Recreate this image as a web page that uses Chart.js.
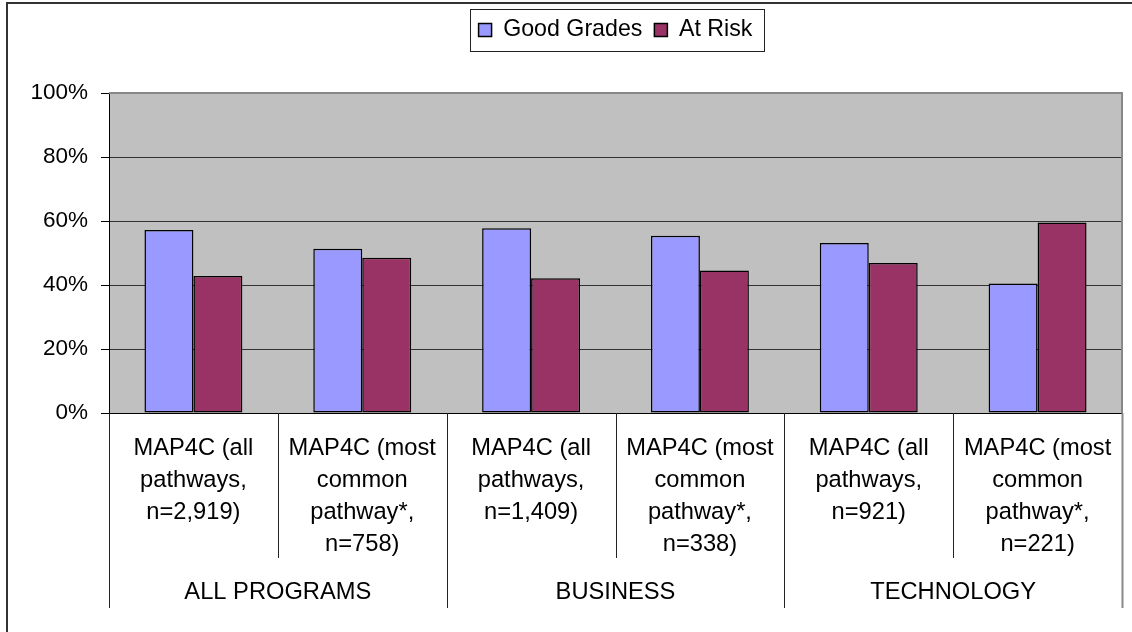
<!DOCTYPE html>
<html>
<head>
<meta charset="utf-8">
<script src="https://cdn.jsdelivr.net/npm/chart.js@4.4.1/dist/chart.umd.min.js"></script>
<style>
  html, body { margin: 0; padding: 0; background: #fff; }
  #wrap { width: 1132px; height: 632px; position: relative; }
</style>
</head>
<body>
<div id="wrap"><canvas id="chart"></canvas></div>
<script>
// data
const programs = ['ALL PROGRAMS', 'BUSINESS', 'TECHNOLOGY'];
const courses = [
    ['MAP4C (all', 'pathways,', 'n=2,919)'],
    ['MAP4C (most', 'common', 'pathway*,', 'n=758)'],
    ['MAP4C (all', 'pathways,', 'n=1,409)'],
    ['MAP4C (most', 'common', 'pathway*,', 'n=338)'],
    ['MAP4C (all', 'pathways,', 'n=921)'],
    ['MAP4C (most', 'common', 'pathway*,', 'n=221)']
];
const goodGrades = [57.2, 51.3, 57.7, 55.4, 53.1, 40.5];
const atRisk = [42.8, 48.5, 42.1, 44.5, 46.9, 59.5];
const yTicks = [0, 20, 40, 60, 80, 100];

const FONT = 'Liberation Sans, Arial, sans-serif';
const SIZE = 23.7;

// grey plot background
const plotBackground = {
    id: 'plotBackground',
    beforeDraw(chart) {
        const {ctx, chartArea: a} = chart;
        ctx.save();
        ctx.fillStyle = '#c0c0c0';
        ctx.fillRect(a.left, a.top, a.right - a.left, a.bottom - a.top);
        ctx.restore();
    }
};

// frame lines, category separators, legend box
const frames = {
    id: 'frames',
    afterDraw(chart) {
        const {ctx, chartArea: a} = chart;
        const x = chart.scales.x;
        const x2 = chart.scales.x2;
        ctx.save();

        // outer chart border (runs off right / bottom edge)
        ctx.strokeStyle = '#333';
        ctx.lineWidth = 2;
        ctx.strokeRect(7, 3, 1200, 700);

        // plot border: grey top and right, black bottom
        ctx.lineWidth = 2;
        ctx.strokeStyle = '#888';
        ctx.beginPath();
        ctx.moveTo(a.left, a.top);
        ctx.lineTo(a.right, a.top);
        ctx.lineTo(a.right, a.bottom);
        ctx.stroke();
        ctx.lineWidth = 1;
        ctx.strokeStyle = '#000';
        ctx.beginPath();
        ctx.moveTo(a.left, Math.round(a.bottom) + 0.5);
        ctx.lineTo(a.right, Math.round(a.bottom) + 0.5);
        ctx.stroke();

        // separators between categories and groups
        for (let i = 0; i <= courses.length; i++) {
            const px = Math.round(x.getPixelForValue(i - 0.5)) + 0.5;
            const outer = i % 2 === 0;
            const last = i === courses.length;
            ctx.strokeStyle = last ? '#888' : '#222';
            ctx.lineWidth = last ? 2 : 1;
            ctx.beginPath();
            ctx.moveTo(px, a.bottom);
            ctx.lineTo(px, outer ? x2.bottom : x.bottom);
            ctx.stroke();
        }

        // box around legend
        const boxes = chart.legend.legendHitBoxes;
        if (boxes && boxes.length) {
            const l = Math.min(...boxes.map(b => b.left));
            const r = Math.max(...boxes.map(b => b.left + b.width));
            const t = Math.min(...boxes.map(b => b.top));
            const h = Math.max(...boxes.map(b => b.height));
            ctx.strokeStyle = '#222';
            ctx.lineWidth = 1;
            ctx.strokeRect(Math.round(l - 9) + 0.5, Math.round(t - 10) + 0.5, Math.round(r - l + 20), Math.round(h + 19));
        }
        ctx.restore();
    }
};

const canvas = document.getElementById('chart');

let chart = new Chart(canvas, {
    type: 'bar',
    data: {
        labels: courses,
        datasets: [{
            label: 'Good Grades',
            data: goodGrades,
            backgroundColor: '#9999ff',
            borderColor: '#000',
            borderWidth: 1.5,
            borderSkipped: false
        }, {
            label: 'At Risk',
            data: atRisk,
            backgroundColor: '#993366',
            borderColor: '#000',
            borderWidth: 1.5,
            borderSkipped: false
        }]
    },
    options: {
        responsive: true,
        maintainAspectRatio: false,
        animation: false,
        devicePixelRatio: 1,
        categoryPercentage: 0.58,
        barPercentage: 1,
        layout: {
            padding: { left: 0, right: 10, top: 6.5, bottom: 24 }
        },
        plugins: {
            legend: {
                display: true,
                position: 'top',
                fullSize: false,
                labels: {
                    boxWidth: 13,
                    boxHeight: 13,
                    padding: 12,
                    color: '#000',
                    font: { family: FONT, size: 23.2 }
                }
            },
            subtitle: {
                // spacer between legend and plot
                display: true,
                text: '',
                position: 'top',
                weight: 500,
                padding: { top: 31.3, bottom: 0 },
                font: { size: 10, lineHeight: 1 }
            },
            title: { display: false },
            tooltip: { enabled: false }
        },
        scales: {
            y: {
                min: 0,
                max: 100,
                afterFit: s => { s.width = 109; },
                afterBuildTicks: s => { s.ticks = yTicks.map(v => ({ value: v })); },
                ticks: {
                    padding: 13,
                    color: '#000',
                    font: { family: FONT, size: 22.5 },
                    callback: v => v + '%'
                },
                grid: {
                    color: c => (c.tick && c.tick.value === 100) ? '#888' : '#333',
                    lineWidth: 1,
                    drawTicks: true,
                    tickLength: 8,
                    tickColor: '#000'
                },
                border: { display: true, color: '#000', width: 1 }
            },
            x: {
                afterFit: s => { s.height = 145; },
                ticks: {
                    padding: 12,
                    autoSkip: false,
                    maxRotation: 0,
                    minRotation: 0,
                    color: '#000',
                    font: { family: FONT, size: SIZE, lineHeight: 1.34 }
                },
                grid: { display: false },
                border: { display: false }
            },
            x2: {
                type: 'category',
                position: 'bottom',
                labels: programs,
                offset: true,
                weight: 1,
                afterFit: s => { s.height = 50; },
                ticks: {
                    padding: 11,
                    autoSkip: false,
                    maxRotation: 0,
                    color: '#000',
                    font: { family: FONT, size: SIZE, lineHeight: 1.34 }
                },
                grid: { display: false },
                border: { display: false }
            }
        }
    },
    plugins: [plotBackground, frames]
});
</script>
</body>
</html>
